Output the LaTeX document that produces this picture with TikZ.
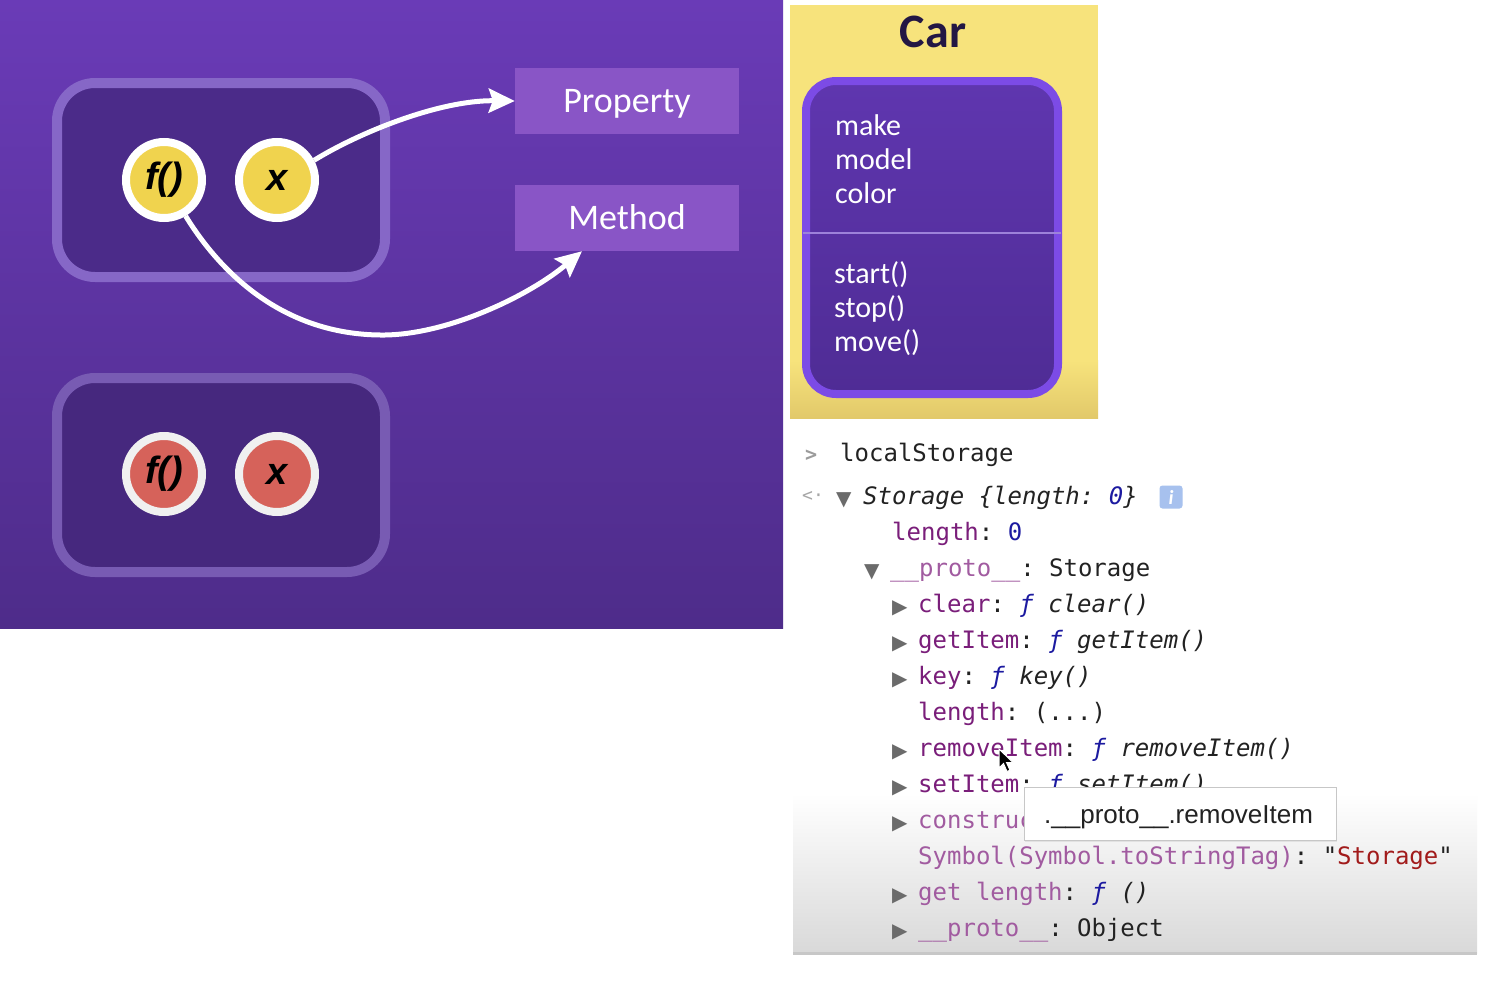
\documentclass[tikz,border=0pt]{standalone}
\usepackage{fontspec}
\setmainfont{Carlito}
\newfontfamily\mono{DejaVu Sans Mono}
\newfontfamily\dejavu{DejaVu Sans}
\newfontfamily\arial{Liberation Sans}
\usetikzlibrary{arrows.meta,shadows}
\frenchspacing

\definecolor{panelTop}{HTML}{6A3BB7}
\definecolor{panelBot}{HTML}{4E2C8A}
\definecolor{boxBorderA}{HTML}{8667C7}
\definecolor{boxBorderB}{HTML}{785BB3}
\definecolor{boxFillA}{HTML}{4B2B89}
\definecolor{boxFillB}{HTML}{46287E}
\definecolor{labelFill}{HTML}{8955C6}
\definecolor{yellowC}{HTML}{F0D34E}
\definecolor{redC}{HTML}{D6625A}
\definecolor{carYellow}{HTML}{F7E37C}
\definecolor{carYellowDark}{HTML}{E2C96A}
\definecolor{carBorder}{HTML}{7C4BE6}
\definecolor{carFillTop}{HTML}{5F36AF}
\definecolor{carFillBot}{HTML}{4F2C95}
\definecolor{dividerC}{HTML}{9D82DA}
\definecolor{carTitle}{HTML}{231744}
\definecolor{keyd}{HTML}{7A1E7A}
\definecolor{keyl}{HTML}{A15BA0}
\definecolor{navyc}{HTML}{1C1AA0}
\definecolor{strred}{HTML}{A11B1B}
\definecolor{txt}{HTML}{222222}
\definecolor{triGray}{HTML}{6B6B6B}
\definecolor{promptGray}{HTML}{9B9B9B}
\definecolor{badge}{HTML}{A7C1EE}

\tikzset{
  objbox/.style={rounded corners=38pt, line width=10pt, minimum width=328pt, minimum height=194pt, inner sep=0},
  ball/.style={circle, line width=8pt, minimum size=76pt, inner sep=0, text=black,
     font=\arial\bfseries\itshape\fontsize{38}{40}\selectfont},
  labelbox/.style={fill=labelFill, minimum width=224pt, minimum height=66pt, inner sep=0,
     text height=24pt, text depth=2pt, text=white, font=\fontsize{36}{40}\selectfont},
  bigarrow/.style={white, line width=5pt, -{Stealth[length=26pt,width=24pt,inset=4pt]}},
  cartext/.style={anchor=base west, inner sep=0, text=white, font=\fontsize{30}{34}\selectfont},
  monot/.style={anchor=base west, inner sep=0, text=txt, font=\mono\fontsize{24}{28}\selectfont},
  tri/.style={anchor=base west, inner sep=0, text=triGray, font=\dejavu\fontsize{20}{22}\selectfont},
}
\newcommand{\fn}{\textcolor{navyc}{\itshape ƒ}}

\begin{document}
\begin{tikzpicture}[x=1pt,y=-1pt]
\useasboundingbox (0,0) rectangle (1507,985);
\fill[white] (0,0) rectangle (1507,985);

% ---------- left panel ----------
\fill[top color=panelTop, bottom color=panelBot] (0,0) rectangle (783,628);

\node[objbox, draw=boxBorderA, fill=boxFillA] (obj1) at (221,180) {};
\node[objbox, draw=boxBorderB, fill=boxFillB] (obj2) at (221,475) {};

\node[ball, draw=white, fill=yellowC] (f1) at (164,180) {f()};
\node[ball, draw=white, fill=yellowC] (x1) at (277,180) {x};
\node[ball, draw=white!94!black, fill=redC] (f2) at (164,474) {f()};
\node[ball, draw=white!94!black, fill=redC] (x2) at (277,474) {x};

\node[labelbox] (prop) at (627,101) {Property};
\node[labelbox] (meth) at (627,218) {Method};

\draw[bigarrow] (x1.28) .. controls (360,132) and (440,100) .. (prop.west);
\draw[bigarrow] (f1.-59) .. controls (225,280) and (290,336) .. (385,335)
   .. controls (450,334) and (530,295) .. ([xshift=-45pt]meth.south);

% ---------- Car panel ----------
\fill[carYellow] (790,5) rectangle (1098,418);
\fill[top color=carYellow, bottom color=carYellowDark] (790,360) rectangle (1098,418);
\node[anchor=base, inner sep=0, text=carTitle, font=\bfseries\fontsize{48}{52}\selectfont] (cartitle) at (933,47) {Car};
\node[draw=carBorder, line width=8pt, top color=carFillTop, bottom color=carFillBot,
      rounded corners=30pt, minimum width=252pt, minimum height=313pt, inner sep=0] (carbox) at (932,237.5) {};
\draw[dividerC, line width=2pt] (803,233) -- (1061,233);
\node[cartext] (a1) at (835,135) {make};
\node[cartext] (a2) at (835,169) {model};
\node[cartext] (a3) at (835,203) {color};
\node[cartext] (m1) at (834,283) {start()};
\node[cartext] (m2) at (834,317) {stop()};
\node[cartext] (m3) at (834,351) {move()};

% ---------- console ----------
\fill[top color=white, bottom color=black!15] (793,793) rectangle (1477,953);
\fill[black!22] (793,952) rectangle (1477,955);

\node[monot, text=promptGray, font=\mono\bfseries\fontsize{20}{24}\selectfont] (prompt) at (805,461) {>};
\node[monot] (ls) at (840,461) {localStorage};
\node[monot, text=black!35, font=\mono\fontsize{18}{22}\selectfont] (ret) at (802,501) {<·};
\node[tri] (t0) at (836,505) {▼};
\node[monot] (st) at (863,504) {\itshape Storage \{length: \textcolor{navyc}{0}\}};
\node[fill=badge, rounded corners=3pt, minimum size=23pt, inner sep=0, text=white,
      font=\bfseries\itshape\fontsize{20}{22}\selectfont] (info) at (1171,497) {i};

\node[monot] (l0) at (892,540) {\textcolor{keyd}{length}: \textcolor{navyc}{0}};
\node[tri] (t1) at (864,577) {▼};
\node[monot] (p0) at (890,576) {\textcolor{keyl}{\_\_proto\_\_}: Storage};

\node[tri] (t2) at (892,613) {▶};
\node[monot] (c1) at (918,612) {\textcolor{keyd}{clear}: \fn{} {\itshape clear()}};
\node[tri] (t3) at (892,649) {▶};
\node[monot] (c2) at (918,648) {\textcolor{keyd}{getItem}: \fn{} {\itshape getItem()}};
\node[tri] (t4) at (892,685) {▶};
\node[monot] (c3) at (918,684) {\textcolor{keyd}{key}: \fn{} {\itshape key()}};
\node[monot] (c4) at (918,720) {\textcolor{keyd}{length}: (...)};
\node[tri] (t5) at (892,757) {▶};
\node[monot] (c5) at (918,756) {\textcolor{keyd}{removeItem}: \fn{} {\itshape removeItem()}};
\node[tri] (t6) at (892,793) {▶};
\node[monot] (c6) at (918,792) {\textcolor{keyd}{setItem}: \fn{} {\itshape setItem()}};
\node[tri] (t7) at (892,829) {▶};
\node[monot] (c7) at (918,828) {\textcolor{keyl}{construc}};
\node[monot] (c8) at (918,864) {\textcolor{keyl}{Symbol(Symbol.toStringTag)}: "\textcolor{strred}{Storage}"};
\node[tri] (t9) at (892,901) {▶};
\node[monot] (c9) at (918,900) {\textcolor{keyl}{get length}: \fn{} {\itshape ()}};
\node[tri] (t10) at (892,937) {▶};
\node[monot] (c10) at (918,936) {\textcolor{keyl}{\_\_proto\_\_}: Object};

% tooltip
\node[draw=black!22, fill=white, drop shadow={opacity=0.15, shadow xshift=1pt, shadow yshift=-2pt},
      minimum width=312pt, minimum height=53pt, inner sep=0] (tip) at (1180,813.5) {};
\node[anchor=base west, inner sep=0, text=txt, font=\arial\fontsize{26}{30}\selectfont] (tiptext) at (1044,823) {.\_\_proto\_\_.removeItem};

% mouse cursor
\filldraw[fill=black, draw=white, line width=1pt]
  (999,749) -- ++(0,19) -- ++(4.5,-4.5) -- ++(3.5,8) -- ++(3,-1.3) -- ++(-3.5,-7.7) -- ++(6.5,0) -- cycle;
\end{tikzpicture}
\end{document}
